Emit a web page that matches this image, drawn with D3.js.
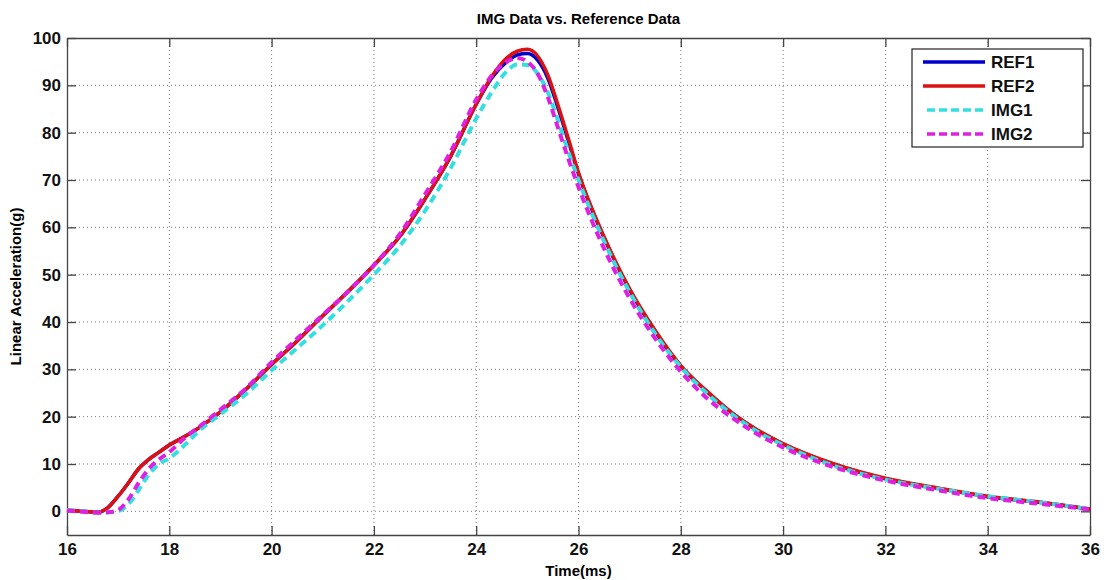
<!DOCTYPE html>
<html>
<head>
<meta charset="utf-8">
<script src="https://cdn.jsdelivr.net/npm/d3@7"></script>
<style>
  body { margin: 0; background: #fff; }
  svg { display: block; font-family: "Liberation Sans", Arial, sans-serif; }
</style>
</head>
<body>
<svg id="chart" width="1110" height="580"></svg>
<script>
// time axis (ms) shared by all series
let times = [16, 16.3, 16.6, 16.8, 17, 17.2, 17.4, 17.6, 17.8, 18, 18.3, 18.6, 19, 19.5, 20, 20.5, 21, 21.5, 22, 22.5, 23, 23.5, 24, 24.3, 24.6, 24.8, 25, 25.2, 25.4, 25.6, 25.8, 26, 26.5, 27, 27.5, 28, 28.5, 29, 29.5, 30, 31, 32, 33, 34, 35, 36];

let ref1 = [0.3, 0, -0.2, 0.8, 3.2, 6, 9, 11, 12.5, 14, 15.8, 17.8, 21, 25.8, 31, 36, 41.3, 46.5, 52, 58, 66, 75, 86, 91.5, 95, 96.4, 96.7, 95.3, 91.5, 85.2, 78.3, 71.3, 57.8, 46.8, 38, 30.7, 25.4, 20.8, 17.1, 14.2, 9.9, 6.9, 4.9, 3.1, 1.9, 0.5];
let ref2 = [0.3, 0, -0.2, 0.8, 3.2, 6, 9, 11, 12.5, 14, 15.8, 17.8, 21, 25.8, 31, 36, 41.3, 46.5, 52, 58, 66, 75, 86, 91.8, 95.8, 97.2, 97.6, 96.2, 92.2, 85.8, 78.8, 71.6, 58, 47, 38.2, 30.8, 25.5, 20.8, 17.2, 14.3, 10, 7, 5, 3.2, 2, 0.5];
let img1 = [0.3, 0, -0.3, -0.2, 0, 1.5, 4.5, 7.8, 10, 11.2, 14, 17.2, 20.5, 24.8, 29.8, 34.5, 39.3, 44.5, 50, 56, 63.5, 72.5, 83, 88.5, 93, 94.4, 94.3, 92.5, 88.5, 82.5, 76, 70, 57, 46.3, 37.5, 30.5, 25, 20.5, 16.8, 14, 9.6, 6.7, 4.8, 3.2, 1.9, 0.5];
let img2 = [0.2, -0.1, -0.3, -0.2, 0.3, 2.5, 6, 9, 11, 12.5, 15.5, 18, 21.5, 26, 31.5, 36.5, 41.5, 46.5, 52, 58.5, 67, 76, 87, 92, 95, 95.8, 95, 92.5, 87.5, 81, 74.5, 68.5, 55.5, 45, 36.5, 29.5, 24, 19.8, 16.3, 13.5, 9.3, 6.5, 4.5, 2.8, 1.6, 0.4];

let seriesNames = ["REF1", "REF2", "IMG1", "IMG2"];
let seriesValues = [ref1, ref2, img1, img2];
let seriesColors = ["#0000cc", "#dd1111", "#33e0e0", "#e020e0"];
let seriesDash = [null, null, "8,5", "8,5"];

let xTicks = [16, 18, 20, 22, 24, 26, 28, 30, 32, 34, 36];
let yTicks = [0, 10, 20, 30, 40, 50, 60, 70, 80, 90, 100];

let drawChart = function() {
  let svg = d3.select("#chart");
  let margin = { top: 38, right: 20, bottom: 45, left: 67 };
  let plotWidth = 1090 - margin.left;
  let plotHeight = 535 - margin.top;

  let x = d3.scaleLinear().domain([16, 36]).range([0, plotWidth]);
  let y = d3.scaleLinear().domain([-5, 100]).range([plotHeight, 0]);

  let plot = svg.append("g")
    .attr("transform", "translate(" + margin.left + "," + margin.top + ")");

  // dotted grid
  plot.append("g").selectAll("line.gx")
    .data(xTicks.slice(1, -1))
    .enter().append("line")
    .attr("x1", d => x(d)).attr("x2", d => x(d))
    .attr("y1", 0).attr("y2", plotHeight)
    .attr("stroke", "#777").attr("stroke-width", 1)
    .attr("stroke-dasharray", "1,3");
  plot.append("g").selectAll("line.gy")
    .data(yTicks.slice(0, -1))
    .enter().append("line")
    .attr("x1", 0).attr("x2", plotWidth)
    .attr("y1", d => y(d)).attr("y2", d => y(d))
    .attr("stroke", "#777").attr("stroke-width", 1)
    .attr("stroke-dasharray", "1,3");

  // axes with inward ticks, MATLAB style box
  let xAxis = d3.axisBottom(x).tickValues(xTicks).tickSizeInner(-9).tickSizeOuter(0).tickPadding(8);
  let yAxis = d3.axisLeft(y).tickValues(yTicks).tickSizeInner(-9).tickSizeOuter(0).tickPadding(6);
  let xTop = d3.axisTop(x).tickValues(xTicks).tickSizeInner(-9).tickSizeOuter(0).tickFormat("");
  let yRight = d3.axisRight(y).tickValues(yTicks).tickSizeInner(-9).tickSizeOuter(0).tickFormat("");

  let gx = plot.append("g").attr("transform", "translate(0," + plotHeight + ")").call(xAxis);
  let gy = plot.append("g").call(yAxis);
  let gt = plot.append("g").call(xTop);
  let gr = plot.append("g").attr("transform", "translate(" + plotWidth + ",0)").call(yRight);

  [gx, gy, gt, gr].forEach(function(g) {
    g.selectAll("path.domain").attr("stroke", "#444").attr("stroke-width", 1.3);
    g.selectAll(".tick line").attr("stroke", "#444").attr("stroke-width", 1.3);
    g.selectAll(".tick text")
      .attr("fill", "#111")
      .style("font-size", "17px")
      .style("font-weight", "bold")
      .style("font-family", "'Liberation Sans', Arial, sans-serif");
  });

  // lines
  let line = d3.line()
    .x((d, i) => x(times[i]))
    .y(d => y(d))
    .curve(d3.curveMonotoneX);

  seriesValues.forEach(function(vals, k) {
    plot.append("path")
      .datum(vals)
      .attr("fill", "none")
      .attr("stroke", seriesColors[k])
      .attr("stroke-width", k < 2 ? 3.5 : 4)
      .attr("stroke-dasharray", seriesDash[k])
      .attr("d", line);
  });

  // legend
  let legend = svg.append("g").attr("transform", "translate(912,49)");
  legend.append("rect")
    .attr("width", 171).attr("height", 98)
    .attr("fill", "#fff").attr("stroke", "#222").attr("stroke-width", 1.2);
  seriesNames.forEach(function(name, k) {
    let row = legend.append("g").attr("transform", "translate(0," + (13 + k * 24) + ")");
    row.append("line")
      .attr("x1", k < 2 ? 11 : 15).attr("x2", 73)
      .attr("stroke", seriesColors[k])
      .attr("stroke-width", 3.5)
      .attr("stroke-dasharray", seriesDash[k] ? "8,4" : null);
    row.append("text")
      .attr("x", 79).attr("y", 6)
      .style("font-size", "17px").style("font-weight", "bold")
      .attr("fill", "#111")
      .text(name);
  });

  // titles
  svg.append("text")
    .attr("x", margin.left + plotWidth / 2).attr("y", 24)
    .attr("text-anchor", "middle")
    .style("font-size", "15px").style("font-weight", "bold")
    .text("IMG Data vs. Reference Data");

  svg.append("text")
    .attr("x", margin.left + plotWidth / 2).attr("y", 576)
    .attr("text-anchor", "middle")
    .style("font-size", "15px").style("font-weight", "bold")
    .text("Time(ms)");

  svg.append("text")
    .attr("transform", "translate(21," + (margin.top + plotHeight / 2) + ") rotate(-90)")
    .attr("text-anchor", "middle")
    .style("font-size", "15px").style("font-weight", "bold")
    .text("Linear Acceleration(g)");
}

drawChart();
</script>
</body>
</html>
